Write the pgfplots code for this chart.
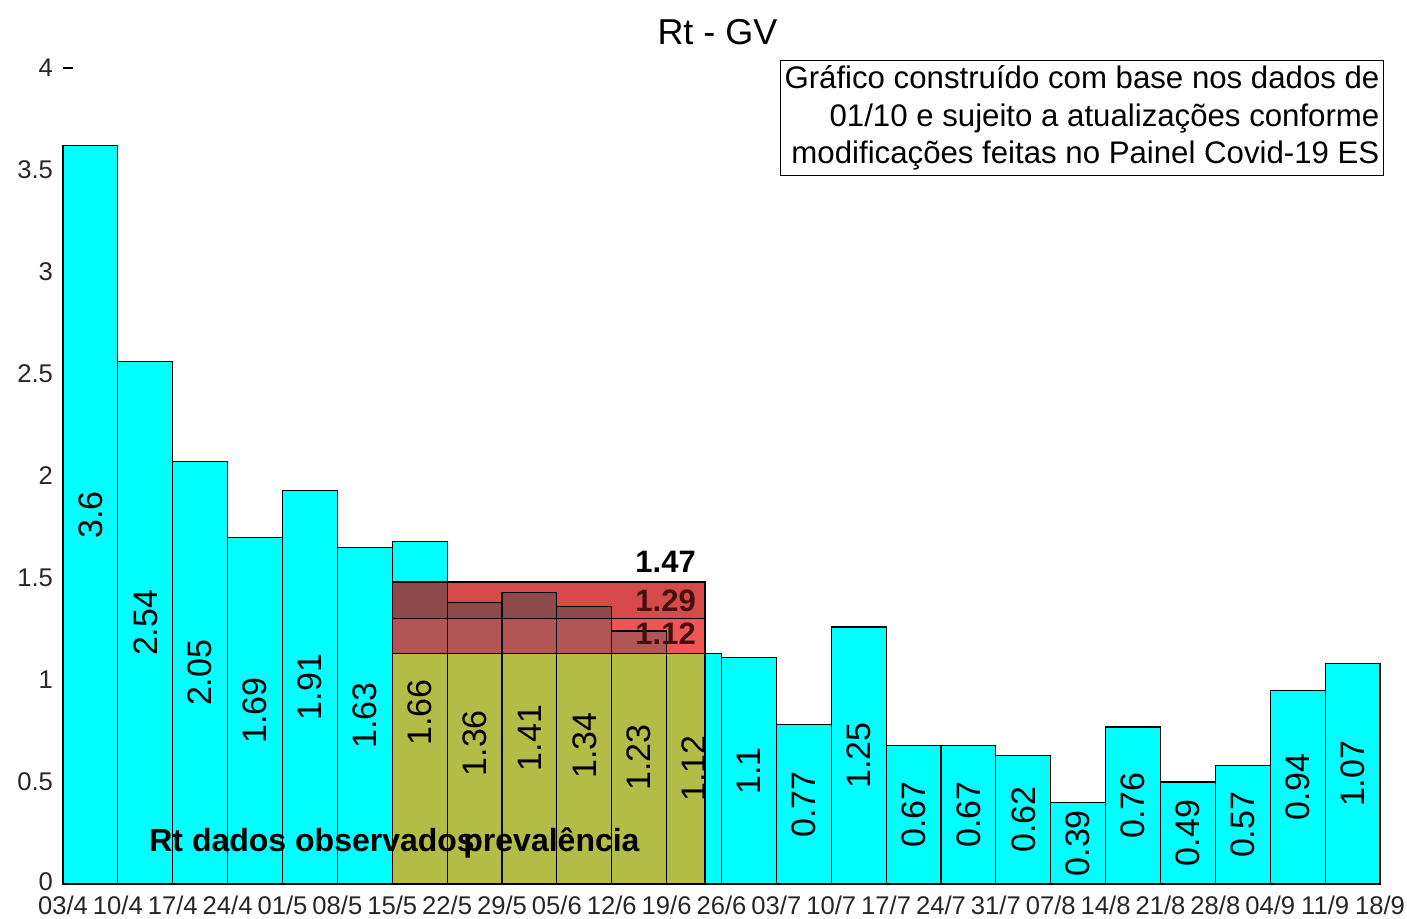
\documentclass[border=0pt]{standalone}
\usepackage{fontspec}
\setmainfont{Liberation Sans}
\usepackage{pgfplots}
\usepackage{pgfplotstable}
\pgfplotsset{compat=1.18}
\definecolor{cy}{RGB}{0,255,255}
\definecolor{olv}{RGB}{178,188,70}
\definecolor{redA}{RGB}{198,0,0}
\definecolor{redB}{RGB}{235,33,33}
\definecolor{lbl}{RGB}{70,15,15}

\pgfplotstableread{
x h lab
0.5 3.62 3.6
1.5 2.56 2.54
2.5 2.07 2.05
3.5 1.70 1.69
4.5 1.93 1.91
5.5 1.65 1.63
6.5 1.68 1.66
7.5 1.38 1.36
8.5 1.43 1.41
9.5 1.36 1.34
10.5 1.24 1.23
11.5 1.13 1.12
12.5 1.11 1.1
13.5 0.78 0.77
14.5 1.26 1.25
15.5 0.68 0.67
16.5 0.68 0.67
17.5 0.63 0.62
18.5 0.40 0.39
19.5 0.77 0.76
20.5 0.50 0.49
21.5 0.58 0.57
22.5 0.95 0.94
23.5 1.08 1.07
}\rtdata

\begin{document}
\begin{tikzpicture}
\begin{axis}[
  width=658.5pt, height=408pt, scale only axis,
  xmin=0, xmax=24, ymin=0, ymax=4,
  axis line style={draw=none},
  xtick={0,...,24},
  xticklabels={03/4,10/4,17/4,24/4,01/5,08/5,15/5,22/5,29/5,05/6,12/6,19/6,26/6,03/7,10/7,17/7,24/7,31/7,07/8,14/8,21/8,28/8,04/9,11/9,18/9},
  ytick={0,0.5,1,1.5,2,2.5,3,3.5},
  yticklabels={\raisebox{2.5pt}{0},0.5,1,1.5,2,2.5,3,3.5},
  major tick length=0pt,
  extra y ticks={4}, extra y tick labels={4},
  extra y tick style={major tick length=5pt, tick style={draw=black, line width=0.6pt}},
  tick align=inside,
  ticklabel style={font=\fontsize{12.8pt}{14pt}\selectfont, text=black!85},
  xticklabel style={yshift=-2.5pt},
  yticklabel style={xshift=-1.5pt},
  clip=false,
]
% bars
\addplot[ybar, bar width=1, bar shift=0pt, fill=cy, draw=black, line width=0.6pt] table[x=x,y=h]{\rtdata};
% overlays
\addplot[fill=olv, draw=black, line width=0.6pt] coordinates {(6,0) (11.7,0) (11.7,1.13) (6,1.13)} -- cycle;
\addplot[fill=redB, fill opacity=0.765, draw=black, line width=0.6pt] coordinates {(6,1.13) (11.7,1.13) (11.7,1.30) (6,1.30)} -- cycle;
\addplot[fill=redA, fill opacity=0.71, draw=black, line width=0.6pt] coordinates {(6,1.30) (11.7,1.30) (11.7,1.48) (6,1.48)} -- cycle;
% bar outlines on top
\addplot[ybar, bar width=1, bar shift=0pt, fill=none, draw=black, line width=0.6pt] table[x=x,y=h]{\rtdata};
% value labels
\addplot[only marks, mark=*, mark size=0pt, mark options={draw opacity=0, fill opacity=0}, nodes near coords, point meta=explicit symbolic,
  every node near coord/.append style={anchor=center, rotate=90, font=\fontsize{17pt}{17pt}\selectfont, inner sep=0pt, text=black, text opacity=1}]
  table[x=x, y expr=\thisrow{h}/2, meta=lab]{\rtdata};
% annotations
\node[anchor=base east, font=\bfseries\fontsize{15.5pt}{15.5pt}\selectfont] at (axis cs:11.66,1.525) {1.47};
\node[anchor=base east, font=\bfseries\fontsize{15.5pt}{15.5pt}\selectfont, text=lbl] at (axis cs:11.66,1.338) {1.29};
\node[anchor=base east, font=\bfseries\fontsize{15.5pt}{15.5pt}\selectfont, text=lbl] at (axis cs:11.66,1.172) {1.12};
\node[anchor=base west, inner sep=0pt, font=\bfseries\fontsize{16pt}{16pt}\selectfont] at (axis cs:1.567,0.157) {Rt dados observados};
\node[anchor=base west, inner sep=0pt, font=\bfseries\fontsize{16pt}{16pt}\selectfont] at (axis cs:7.29,0.157) {prevalência};
\node[anchor=center, font=\fontsize{18pt}{18pt}\selectfont] at ([xshift=-2pt, yshift=18pt]rel axis cs:0.5,1) {Rt - GV};
\node[anchor=north east, draw=black, line width=0.6pt, fill=white, align=right, inner xsep=2pt, inner ysep=2.5pt,
  font=\fontsize{15.6pt}{18.8pt}\selectfont] at ([xshift=2pt, yshift=4pt]rel axis cs:1,1)
  {Gráfico construído com base nos dados de\\01/10 e sujeito a atualizações conforme\\modificações feitas no Painel Covid-19 ES};
\end{axis}
\pgfresetboundingbox
\useasboundingbox (-31.5pt,-17.5pt) rectangle (672pt,442pt);
\end{tikzpicture}
\end{document}
